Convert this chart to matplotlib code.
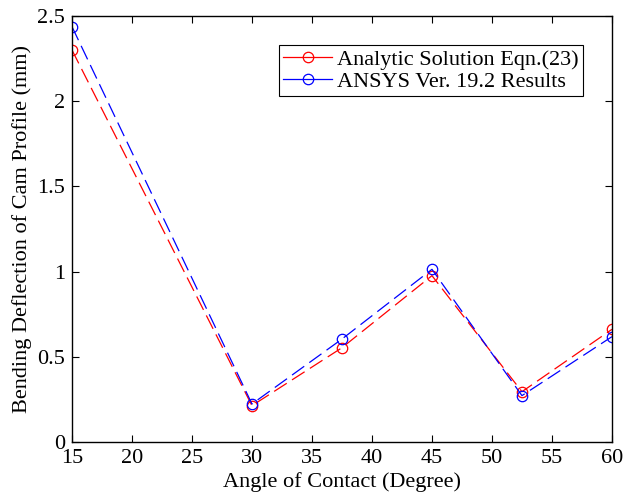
import numpy as np
import matplotlib
matplotlib.use('Agg')
import matplotlib.pyplot as plt
from matplotlib.lines import Line2D

angle = [15, 30, 37.5, 45, 52.5, 60]
analytic = [2.30, 0.213, 0.553, 0.976, 0.295, 0.661]
ansys = [2.437, 0.223, 0.604, 1.013, 0.272, 0.618]

x_ticks = [15, 20, 25, 30, 35, 40, 45, 50, 55, 60]
y_ticks = [0, 0.5, 1, 1.5, 2, 2.5]
y_tick_labels = ['0', '0.5', '1', '1.5', '2', '2.5']

plt.rcParams['font.family'] = ['Liberation Serif', 'DejaVu Serif']

fig = plt.figure(figsize=(6.27, 4.97), dpi=100)
ax = fig.add_axes([0.1148, 0.1107, 0.8612, 0.8573])

ax.plot(angle, analytic, color='red', ls='--', dashes=(12, 5), lw=0.9,
        marker='o', ms=7.5, mfc='none', mew=0.9)
ax.plot(angle, ansys, color='blue', ls='--', dashes=(12, 5), lw=0.9,
        marker='o', ms=7.5, mfc='none', mew=0.9)

ax.set_xlim(15, 60)
ax.set_ylim(0, 2.5)
ax.set_xticks(x_ticks)
ax.set_yticks(y_ticks)
ax.set_yticklabels(y_tick_labels)
ax.tick_params(direction='in', top=True, right=True, labelsize=16, length=5,
               width=0.8, pad=5)
for s in ax.spines.values():
    s.set_linewidth(1.0)

ax.set_xlabel('Angle of Contact (Degree)', fontsize=16, labelpad=3)
ax.set_ylabel('Bending Deflection of Cam Profile (mm)', fontsize=16, labelpad=4)

handles = [
    Line2D([], [], color='red', lw=0.9, marker='o', ms=7.5, mfc='none', mew=0.9),
    Line2D([], [], color='blue', lw=0.9, marker='o', ms=7.5, mfc='none', mew=0.9),
]
leg = ax.legend(handles, ['Analytic Solution Eqn.(23)', 'ANSYS Ver. 19.2 Results'],
                loc='upper right', bbox_to_anchor=(0.946, 0.932), fontsize=16,
                fancybox=False, framealpha=1, edgecolor='black',
                borderpad=0.2, labelspacing=0.05, handlelength=2.2,
                handletextpad=0.2, borderaxespad=0)
leg.get_frame().set_linewidth(0.8)

fig.savefig('out.png', dpi=100)
